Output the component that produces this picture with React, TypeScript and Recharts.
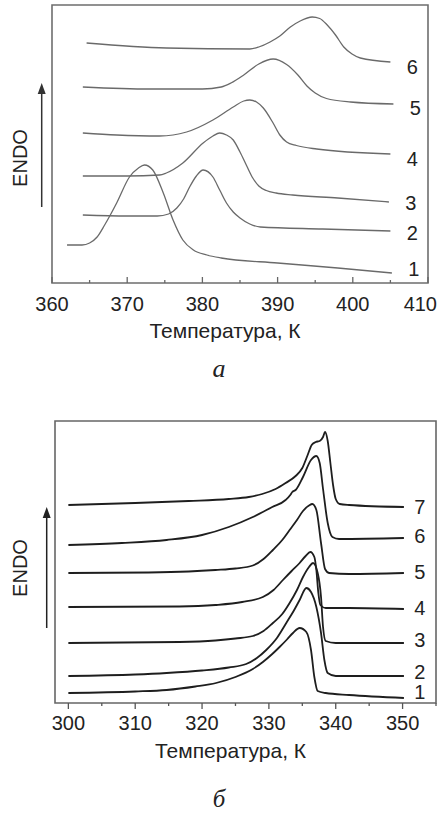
import React from 'react';
import { LineChart, Line, XAxis, YAxis, ReferenceArea } from 'recharts';

const SANS = '"Liberation Sans", Arial, sans-serif';
const SERIF = '"Liberation Serif", "Times New Roman", serif';

// ---------- Chart а : temperatures (K) and ENDO signal (arb. units) ----------
const tempA1 = [362, 364, 365, 366, 367, 368.6, 370.3, 371.5, 372.3, 373.4, 374.8, 376.1, 377.4, 378.8, 380.6, 382.5, 390, 398, 405.2];
const endoA1 = [38, 38, 40, 46, 58, 80, 106, 115, 118, 113, 90, 63, 43, 33, 28, 25, 20, 15, 10];
const tempA2 = [364.1, 370, 374, 375.5, 376.6, 377.5, 378.3, 379.2, 380.1, 381.4, 382.3, 383.2, 384.1, 385, 386.3, 387.7, 396, 405];
const endoA2 = [68, 67, 67, 69, 75, 84, 96, 107, 113, 106, 93, 80, 71, 65, 59, 56, 54, 52];
const tempA3 = [364.1, 370, 374.3, 375.2, 377.4, 380.1, 381.4, 382.3, 383.2, 384.1, 385, 385.9, 386.7, 387.5, 388.5, 389.8, 392, 398, 404.8];
const endoA3 = [107, 107, 108, 110, 120, 140, 147, 150, 148, 143, 131, 117, 105, 97, 92.5, 90, 88, 85, 81];
const tempA4 = [364.1, 368.6, 374.3, 377.9, 381.4, 384.1, 385.5, 386.3, 387.2, 388.1, 389.4, 390.3, 391.2, 392.5, 395.2, 405];
const endoA4 = [150, 148, 147, 151, 163, 176, 182, 183, 181, 175, 160, 148, 141, 137.5, 134, 129];
const tempA5 = [364.1, 373, 380, 382.5, 383.8, 385.5, 387.5, 389.4, 391.2, 392.7, 393.9, 395, 396.5, 399.7, 405.4];
const endoA5 = [196, 194, 194, 196, 200, 208, 219, 224, 218.5, 208, 197, 190, 184.5, 181, 179];
const tempA6 = [364.6, 375.2, 386.3, 387.5, 389, 390.3, 391.7, 393, 394.6, 395.6, 396.6, 397.7, 398.8, 399.9, 401, 405];
const endoA6 = [240, 235, 234, 236, 241, 247, 256, 262, 266, 264.5, 258, 248, 236, 229, 225, 221];
const ticksA = [360, 365, 370, 375, 380, 385, 390, 395, 400, 405, 410];
const majorTicksA = [360, 370, 380, 390, 400, 410];
const namesA = ['1', '2', '3', '4', '5', '6'];

// ---------- Chart б ----------
const tempB1 = [300, 310, 314.7, 319, 322.1, 325, 327.6, 329.1, 330.5, 331.6, 332.7, 333.6, 334.6, 335.6, 336.3, 336.8, 337.3, 338.5, 342, 350.2];
const endoB1 = [10, 11.5, 13, 16.5, 20, 26, 34, 41, 49, 56, 63.5, 70, 75, 71, 53, 26, 12, 10, 8, 5];
const tempB2 = [300, 310, 314.7, 320, 324, 326.6, 328.2, 329.6, 331.2, 332.6, 333.7, 334.6, 335.6, 336.3, 337.1, 337.8, 338.3, 338.8, 340, 350.2];
const endoB2 = [27, 28.5, 30, 32.5, 35.5, 39, 45, 53, 65, 80, 92, 103, 115, 111, 96, 70, 43, 30, 27, 27];
const tempB3 = [300, 316.6, 322, 325, 327.6, 329.2, 330.6, 332, 333.1, 334.2, 335.1, 336, 336.6, 337.3, 337.8, 338.1, 338.5, 340, 350.2];
const endoB3 = [60, 61, 62.5, 64.5, 67, 72, 80, 89, 100, 113, 126, 136, 140, 130, 106, 76, 62, 60, 60];
const tempB4 = [300, 316.6, 322, 326, 329.1, 330.7, 332.1, 333.4, 334.6, 335.5, 336.2, 336.8, 337.1, 337.4, 337.7, 338.5, 342, 350.2];
const endoB4 = [96, 96.5, 98, 101, 106, 113, 123, 132, 140, 147, 151, 146, 133, 110, 98, 95, 95, 94];
const tempB5 = [300, 312, 318, 322, 325, 327.6, 329.2, 330.6, 332, 333.1, 334.2, 335.1, 336, 336.5, 337.1, 337.8, 338.4, 339, 342, 350.2];
const endoB5 = [130, 130.5, 131.5, 133, 134.5, 137.5, 144, 153, 163, 173, 183, 192, 197.5, 199, 193, 160, 134, 130, 129, 130];
const tempB6 = [300, 308, 314.7, 320, 324, 327.6, 330.5, 332.5, 333.2, 333.5, 334, 335.1, 336.3, 337.1, 337.6, 338.1, 338.8, 339.5, 340.5, 350.2];
const endoB6 = [158, 160, 163, 168, 176, 186, 196, 203, 208, 211, 213, 226, 243, 247, 240, 214, 180, 166, 164, 165];
const tempB7 = [300, 310, 318, 324, 327, 329, 331, 332.5, 334, 335, 335.8, 336.4, 337, 337.6, 338.1, 338.4, 338.8, 339.2, 339.6, 340, 340.6, 342, 350.2];
const endoB7 = [198, 200, 202, 204, 206, 209, 214, 220, 227, 235, 248, 258, 261, 262, 266, 271, 262, 240, 218, 204, 199, 198, 196];
const ticksB = [300, 305, 310, 315, 320, 325, 330, 335, 340, 345, 350, 355];
const majorTicksB = [300, 310, 320, 330, 340, 350];
const namesB = ['1', '2', '3', '4', '5', '6', '7'];

const zip = (t: number[], v: number[]) => t.map((x, i) => ({ t: x, v: v[i] }));

const seriesA = [
  zip(tempA1, endoA1), zip(tempA2, endoA2), zip(tempA3, endoA3),
  zip(tempA4, endoA4), zip(tempA5, endoA5), zip(tempA6, endoA6),
];
const seriesB = [
  zip(tempB1, endoB1), zip(tempB2, endoB2), zip(tempB3, endoB3), zip(tempB4, endoB4),
  zip(tempB5, endoB5), zip(tempB6, endoB6), zip(tempB7, endoB7),
];

// label offsets (style)
const labelDyA = [-4, 2, 1, 5, 4, 5];
const labelDyB = [-6, -4, -3, -1, -1, -2, 0];

const makeTick = (majors: number[], inward: boolean, gap: number, color: string, rightEdge: number) => (props: any) => {
  const { x, y, payload } = props;
  const major = majors.includes(payload.value);
  const len = major ? 6 : 3;
  const overflow = x + 17 > rightEdge;
  return (
    <g>
      <line x1={x} x2={x} y1={y} y2={inward ? y - len : y + len} stroke={color} strokeWidth={1.3} />
      {major && (
        <text
          x={overflow ? rightEdge : x}
          y={y + gap}
          textAnchor={overflow ? 'end' : 'middle'}
          fontSize={20}
          fontFamily={SANS}
          fill="#222"
        >
          {payload.value}
        </text>
      )}
    </g>
  );
};

const makeTitle = (dx: number, titleDy: number, caption: string, capX: number, capDy: number, capSize: number) => (props: any) => {
  const vb = props.viewBox || props;
  const cx = vb.x + vb.width / 2 + dx;
  return (
    <g>
      <text x={cx} y={vb.y + titleDy} textAnchor="middle" fontSize={21} fontFamily={SANS} fill="#222">
        Температура, К
      </text>
      <text x={capX} y={vb.y + capDy} textAnchor="middle" fontSize={capSize} fontStyle="italic" fontFamily={SERIF} fill="#222">
        {caption}
      </text>
    </g>
  );
};

const makeEndo = (textX: number, textDy: number, arrowX: number, tipDy: number, baseDy: number, color: string) => (props: any) => {
  const vb = props.viewBox || props;
  const ty = vb.y + textDy;
  const tip = vb.y + tipDy;
  const base = vb.y + baseDy;
  return (
    <g>
      <text
        x={textX}
        y={ty}
        transform={`rotate(-90 ${textX} ${ty})`}
        textAnchor="middle"
        dominantBaseline="central"
        fontSize={20}
        fontFamily={SANS}
        fill="#222"
      >
        ENDO
      </text>
      <line x1={arrowX} x2={arrowX} y1={base} y2={tip + 8} stroke={color} strokeWidth={1.5} />
      <polygon points={`${arrowX},${tip} ${arrowX - 4},${tip + 11} ${arrowX + 4},${tip + 11}`} fill={color} />
    </g>
  );
};

const makeEndLabel = (text: string, n: number, dx: number, dy: number) => (p: any) => {
  if (p.index !== n - 1) return null;
  const x = p.x ?? p.viewBox?.x;
  const y = p.y ?? p.viewBox?.y;
  return (
    <text x={x + dx} y={y + dy + 7} textAnchor="middle" fontSize={20} fontFamily={SANS} fill="#222">
      {text}
    </text>
  );
};

export default function App() {
  return (
    <div style={{ position: 'absolute', left: 0, top: 0, width: 437, height: 813, background: '#fff' }}>
      <LineChart width={437} height={390} margin={{ top: 5, right: 9, bottom: 0, left: 0 }}>
        <XAxis
          type="number"
          dataKey="t"
          domain={[360, 410]}
          ticks={ticksA}
          interval={0}
          tickSize={0}
          tickMargin={0}
          axisLine={false}
          tickLine={false}
          height={107}
          tick={makeTick(majorTicksA, true, 28, '#666', 437)}
          label={makeTitle(-15, 55, 'а', 219, 94, 26)}
        />
        <YAxis
          type="number"
          domain={[0, 278]}
          width={52}
          tick={false}
          axisLine={false}
          tickLine={false}
          label={makeEndo(20, 153, 41.7, 78, 202, '#333')}
        />
        <ReferenceArea x1={360} x2={410} y1={0} y2={278} fill="none" stroke="#6e6e6e" strokeWidth={1.6} />
        {seriesA.map((d, i) => (
          <Line
            key={i}
            data={d}
            dataKey="v"
            type="monotone"
            stroke="#6a6a6a"
            strokeWidth={1.3}
            dot={false}
            isAnimationActive={false}
            label={makeEndLabel(namesA[i], d.length, 22, labelDyA[i])}
          />
        ))}
      </LineChart>
      <LineChart width={437} height={423} margin={{ top: 31, right: 1, bottom: 0, left: 0 }}>
        <XAxis
          type="number"
          dataKey="t"
          domain={[298, 355]}
          ticks={ticksB}
          interval={0}
          tickSize={0}
          tickMargin={0}
          axisLine={false}
          tickLine={false}
          height={110}
          tick={makeTick(majorTicksB, false, 27, '#555', 437)}
          label={makeTitle(-15, 55, 'б', 219, 104, 25)}
        />
        <YAxis
          type="number"
          domain={[0, 282]}
          width={55}
          tick={false}
          axisLine={false}
          tickLine={false}
          label={makeEndo(20, 147, 46.7, 86, 207, '#222')}
        />
        <ReferenceArea x1={298} x2={355} y1={0} y2={282} fill="none" stroke="#666" strokeWidth={1.6} />
        {seriesB.map((d, i) => (
          <Line
            key={i}
            data={d}
            dataKey="v"
            type="monotone"
            stroke="#1e1e1e"
            strokeWidth={1.8}
            dot={false}
            isAnimationActive={false}
            label={makeEndLabel(namesB[i], d.length, 16, labelDyB[i])}
          />
        ))}
      </LineChart>
    </div>
  );
}
